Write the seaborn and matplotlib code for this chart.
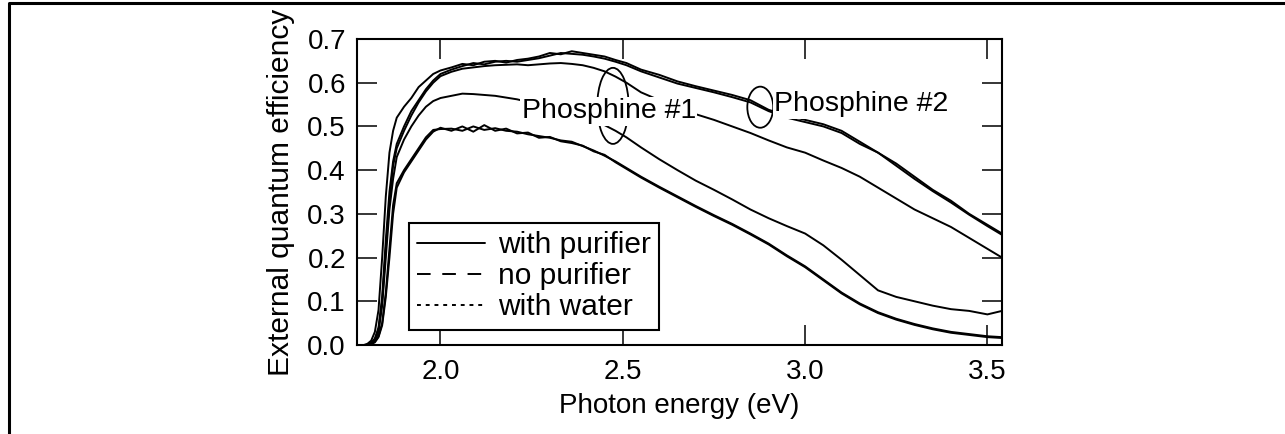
import matplotlib
matplotlib.use("Agg")
import matplotlib.pyplot as plt
from matplotlib.lines import Line2D
from matplotlib.patches import Ellipse
import seaborn as sns

# ---------------- data ----------------
energy = [1.77, 1.79, 1.80, 1.81, 1.82, 1.83, 1.84, 1.85, 1.86, 1.87, 1.88,
          1.90, 1.92, 1.94, 1.96, 1.98, 2.00,
          2.03, 2.06, 2.09, 2.12, 2.15, 2.18, 2.21, 2.24, 2.27, 2.30,
          2.33, 2.36, 2.39, 2.42, 2.45, 2.48, 2.51,
          2.55, 2.60, 2.65, 2.70, 2.75, 2.80, 2.85, 2.90, 2.95, 3.00,
          3.05, 3.10, 3.15, 3.20, 3.25, 3.30, 3.35, 3.40, 3.45, 3.50, 3.54]

ph2_purifier = [0.0, 0.0, 0.003, 0.01, 0.03, 0.08, 0.20, 0.34, 0.44, 0.49, 0.52,
                0.545, 0.565, 0.59, 0.605, 0.62, 0.628,
                0.635, 0.643, 0.640, 0.648, 0.650, 0.646, 0.652, 0.655, 0.660, 0.668,
                0.665, 0.672, 0.668, 0.664, 0.660, 0.652, 0.645,
                0.630, 0.618, 0.603, 0.592, 0.582, 0.572, 0.560, 0.538, 0.525, 0.515,
                0.505, 0.490, 0.465, 0.440, 0.415, 0.385, 0.355, 0.330, 0.300, 0.275, 0.255]

ph2_no_purifier = [0.0, 0.0, 0.0, 0.005, 0.015, 0.04, 0.11, 0.24, 0.35, 0.42, 0.46,
                   0.50, 0.535, 0.56, 0.585, 0.605, 0.62,
                   0.630, 0.638, 0.645, 0.642, 0.648, 0.650, 0.648, 0.652, 0.656, 0.662,
                   0.668, 0.666, 0.664, 0.660, 0.655, 0.648, 0.640,
                   0.626, 0.612, 0.598, 0.588, 0.578, 0.567, 0.555, 0.535, 0.520, 0.510,
                   0.500, 0.485, 0.460, 0.440, 0.410, 0.380, 0.352, 0.326, 0.298, 0.272, 0.252]

ph1_purifier = [0.0, 0.0, 0.0, 0.005, 0.012, 0.035, 0.10, 0.22, 0.33, 0.41, 0.45,
                0.49, 0.525, 0.555, 0.58, 0.60, 0.615,
                0.625, 0.632, 0.635, 0.638, 0.640, 0.641, 0.642, 0.640, 0.642, 0.644,
                0.645, 0.643, 0.640, 0.634, 0.626, 0.614, 0.600,
                0.578, 0.560, 0.545, 0.528, 0.515, 0.500, 0.485, 0.468, 0.452, 0.440,
                0.422, 0.405, 0.385, 0.360, 0.335, 0.310, 0.290, 0.270, 0.245, 0.220, 0.200]

ph1_no_purifier = [0.0, 0.0, 0.0, 0.004, 0.01, 0.03, 0.09, 0.20, 0.31, 0.38, 0.43,
                   0.47, 0.50, 0.525, 0.545, 0.558, 0.565,
                   0.570, 0.575, 0.574, 0.572, 0.570, 0.566, 0.562, 0.556, 0.552, 0.547,
                   0.540, 0.533, 0.525, 0.515, 0.503, 0.490, 0.475,
                   0.452, 0.425, 0.400, 0.376, 0.355, 0.333, 0.310, 0.290, 0.272, 0.255,
                   0.228, 0.195, 0.160, 0.125, 0.110, 0.100, 0.090, 0.082, 0.078, 0.070, 0.078]

water_a = [0.0, 0.0, 0.0, 0.002, 0.008, 0.02, 0.05, 0.12, 0.22, 0.32, 0.37,
           0.40, 0.425, 0.45, 0.475, 0.492, 0.494,
           0.495, 0.490, 0.500, 0.492, 0.496, 0.490, 0.488, 0.482, 0.478, 0.474,
           0.468, 0.465, 0.455, 0.445, 0.433, 0.420, 0.405,
           0.385, 0.362, 0.340, 0.318, 0.297, 0.277, 0.255, 0.232, 0.205, 0.180,
           0.150, 0.120, 0.095, 0.075, 0.060, 0.048, 0.038, 0.030, 0.025, 0.020, 0.018]

water_b = [0.0, 0.0, 0.0, 0.002, 0.006, 0.018, 0.045, 0.11, 0.20, 0.30, 0.36,
           0.395, 0.42, 0.445, 0.47, 0.488, 0.497,
           0.490, 0.500, 0.488, 0.503, 0.490, 0.495, 0.484, 0.486, 0.474, 0.476,
           0.466, 0.462, 0.456, 0.443, 0.435, 0.418, 0.403,
           0.383, 0.360, 0.338, 0.316, 0.295, 0.275, 0.253, 0.230, 0.203, 0.178,
           0.148, 0.118, 0.093, 0.073, 0.058, 0.046, 0.036, 0.028, 0.023, 0.018, 0.016]

series = [ph2_purifier, ph2_no_purifier, ph1_purifier, ph1_no_purifier, water_a, water_b]

legend_labels = ["with purifier", "no purifier", "with water"]
xticks = [2.0, 2.5, 3.0, 3.5]
yticks = [0.0, 0.1, 0.2, 0.3, 0.4, 0.5, 0.6, 0.7]

# ---------------- style ----------------
sns.set_style("ticks")
plt.rcParams['font.family'] = ['Liberation Sans', 'DejaVu Sans']
plt.rcParams.update({
    'axes.linewidth': 1.5,
    'text.color': 'black',
    'axes.labelcolor': 'black',
    'axes.edgecolor': 'black',
    'xtick.color': 'black',
    'ytick.color': 'black',
})

fig = plt.figure(figsize=(12.85, 4.34), dpi=100)
ax = fig.add_axes([357 / 1285, 1 - 345 / 434, (1002 - 357) / 1285, (345 - 39) / 434])

for s in series:
    sns.lineplot(x=energy, y=s, ax=ax, color='black', lw=1.4,
                 legend=False, estimator=None, sort=False)

ax.set_xlim(1.771, 3.54)
ax.set_ylim(0.0, 0.7)
ax.set_xticks(xticks)
ax.set_xticklabels([f"{t:.1f}" for t in xticks])
ax.set_yticks(yticks)
ax.set_yticklabels([f"{t:.1f}" for t in yticks])
ax.tick_params(direction='in', top=True, right=True, length=14.5, width=1.1,
               labelsize=20, colors='black')
ax.tick_params(axis='y', pad=8)
ax.tick_params(axis='x', pad=10)
for sp in ax.spines.values():
    sp.set_color('black')
    sp.set_linewidth(1.5)

ax.set_xlabel("Photon energy (eV)", fontsize=20, labelpad=6, color='black')
ax.set_ylabel("External quantum efficiency", fontsize=21.5, labelpad=9, color='black')

# annotations
ax.add_patch(Ellipse((2.473, 0.547), 0.086, 0.174, fill=False, ec='black', lw=1.3, zorder=3))
ax.add_patch(Ellipse((2.877, 0.544), 0.071, 0.094, fill=False, ec='black', lw=1.3, zorder=3))
ax.text(2.462, 0.535, "Phosphine #1", ha='center', va='center', fontsize=20.5, zorder=4,
        color='black', bbox=dict(fc='white', ec='none', pad=1.0))
ax.text(3.154, 0.551, "Phosphine #2", ha='center', va='center', fontsize=20.5, zorder=4,
        color='black', bbox=dict(fc='white', ec='none', pad=1.0))

handles = [Line2D([], [], color='black', lw=1.4, ls='-'),
           Line2D([], [], color='black', lw=1.4, ls=(0, (7, 6))),
           Line2D([], [], color='black', lw=1.4, ls=(0, (2, 2.5)))]
leg = ax.legend(handles, legend_labels, loc='upper left', bbox_to_anchor=(0.0806, 0.399),
                borderaxespad=0, fontsize=21.5, frameon=True, fancybox=False,
                framealpha=1.0, handlelength=2.25, handletextpad=0.45, labelspacing=0.1,
                borderpad=0.28)
for t in leg.get_texts():
    t.set_color('black')
leg.get_frame().set_edgecolor('black')
leg.get_frame().set_linewidth(1.5)
leg.set_zorder(5)

# outer frame of the figure (left and top edges visible)
fig.add_artist(Line2D([9 / 1285, 9 / 1285, 1.01], [-0.01, 1 - 2.5 / 434, 1 - 2.5 / 434],
                      transform=fig.transFigure, color='black', lw=2.2))

fig.savefig("out.png", dpi=100)
